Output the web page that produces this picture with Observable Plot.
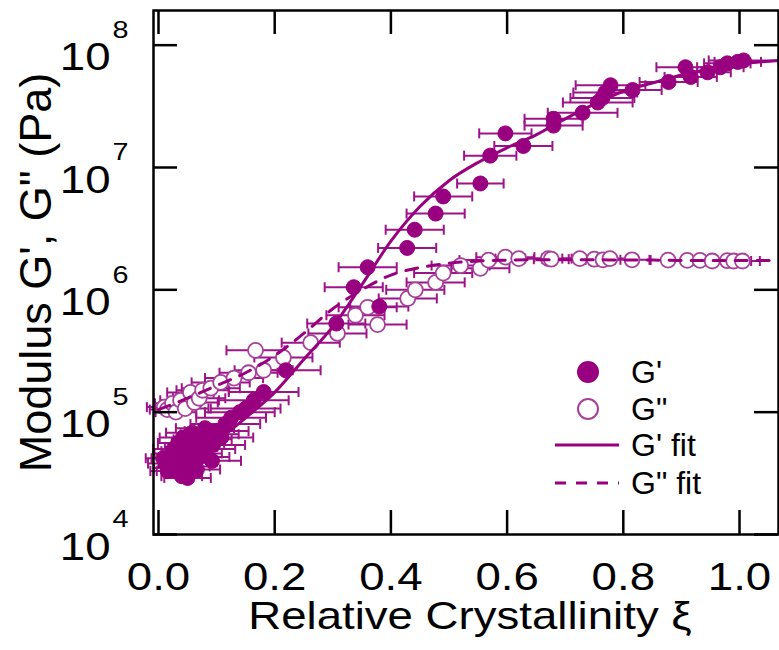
<!DOCTYPE html>
<html>
<head>
<meta charset="utf-8">
<script src="https://cdn.jsdelivr.net/npm/d3@7"></script>
<script src="https://cdn.jsdelivr.net/npm/@observablehq/plot@0.6"></script>
<style>
  html, body { margin: 0; padding: 0; background: #fff; }
  #wrap { position: relative; width: 779px; height: 650px; }
  #legend { position: absolute; left: 0; top: 0; pointer-events: none; }
</style>
</head>
<body>
<div id="wrap"></div>
<script>
// ---- data ----
// G' (storage modulus), filled circles: xi, value (Pa), horizontal error (xi)
const gpXi  = [0.008,0.012,0.016,0.018,0.022,0.026,0.028,0.032,0.034,0.036,0.040,0.042,0.045,0.048,0.050,0.052,0.056,0.058,0.060,0.064,0.066,0.068,0.072,0.076,0.080,0.082,0.088,0.092,0.094,0.100,0.108,0.115,0.125,0.140,0.150,0.164,0.181,0.219,0.306,0.336,0.360,0.380,0.428,0.441,0.477,0.490,0.554,0.571,0.597,0.628,0.680,0.680,0.730,0.756,0.764,0.769,0.778,0.816,0.878,0.907,0.916,0.945,0.967,0.979,0.997,1.007];
const gpVal = [4.2e4,3.8e4,3.3e4,4.2e4,3.5e4,5.0e4,4.6e4,3.3e4,5.6e4,4.0e4,3.0e4,6.2e4,4.8e4,3.6e4,2.9e4,4.2e4,5.2e4,6.8e4,3.9e4,4.6e4,3.4e4,5.6e4,4.3e4,6.0e4,7.4e4,5.0e4,6.6e4,4.0e4,5.4e4,7.0e4,6.2e4,8.0e4,9.0e4,1.0e5,1.07e5,1.25e5,1.46e5,2.2e5,5.3e5,1.05e6,1.53e6,7.3e5,2.2e6,3.1e6,4.2e6,5.8e6,7.4e6,1.25e7,1.9e7,1.5e7,2.5e7,2.2e7,2.8e7,3.4e7,3.7e7,4.1e7,4.7e7,4.3e7,5.0e7,6.6e7,5.5e7,6.0e7,6.6e7,7.1e7,7.3e7,7.5e7];
const gpErr = [0.03,0.03,0.03,0.03,0.03,0.035,0.035,0.035,0.035,0.03,0.035,0.04,0.04,0.04,0.04,0.04,0.045,0.045,0.04,0.045,0.04,0.045,0.05,0.05,0.05,0.05,0.05,0.05,0.055,0.055,0.055,0.06,0.06,0.06,0.06,0.06,0.06,0.06,0.05,0.05,0.05,0.05,0.05,0.05,0.05,0.05,0.04,0.045,0.045,0.05,0.05,0.05,0.06,0.06,0.055,0.055,0.06,0.05,0.05,0.05,0.045,0.04,0.04,0.04,0.04,0.06];

// G'' (loss modulus), open circles
const gppXi  = [0.010,0.015,0.024,0.030,0.038,0.046,0.055,0.062,0.070,0.076,0.090,0.107,0.130,0.155,0.167,0.181,0.215,0.262,0.308,0.339,0.360,0.377,0.429,0.442,0.477,0.490,0.520,0.554,0.568,0.597,0.620,0.671,0.676,0.725,0.750,0.765,0.777,0.815,0.877,0.910,0.932,0.953,0.979,0.990,1.005];
const gppVal = [1.1e5,1.05e5,1.18e5,1.0e5,1.25e5,1.07e5,1.45e5,1.2e5,1.3e5,1.51e5,1.57e5,1.75e5,1.9e5,2.1e5,3.2e5,2.2e5,2.8e5,3.7e5,4.4e5,6.2e5,7.2e5,5.2e5,8.5e5,1.0e6,1.15e6,1.37e6,1.58e6,1.5e6,1.75e6,1.85e6,1.8e6,1.8e6,1.78e6,1.8e6,1.78e6,1.76e6,1.8e6,1.76e6,1.75e6,1.74e6,1.74e6,1.72e6,1.73e6,1.72e6,1.72e6];
const gppErr = [0.03,0.03,0.03,0.035,0.035,0.04,0.04,0.04,0.045,0.045,0.05,0.05,0.05,0.05,0.05,0.05,0.05,0.05,0.05,0.05,0.05,0.05,0.05,0.05,0.05,0.05,0.05,0.05,0.05,0.05,0.04,0.04,0.03,0.03,0.03,0.03,0.03,0.03,0.03,0.03,0.03,0.03,0.03,0.03,0.03];

// fit curves
const fitXi    = [0.0,0.05,0.10,0.15,0.20,0.25,0.30,0.35,0.40,0.45,0.50,0.55,0.60,0.65,0.70,0.75,0.80,0.85,0.90,0.95,1.00,1.067];
const gpFit    = [3.6e4,4.3e4,5.8e4,9.0e4,1.45e5,2.7e5,5.0e5,1.1e6,2.5e6,4.8e6,7.8e6,1.1e7,1.45e7,1.85e7,2.5e7,3.3e7,4.2e7,4.9e7,5.7e7,6.4e7,7.0e7,7.5e7];
const gppFit   = [1.05e5,1.3e5,1.65e5,2.1e5,2.9e5,4.4e5,7.0e5,1.0e6,1.32e6,1.52e6,1.65e6,1.72e6,1.75e6,1.76e6,1.76e6,1.76e6,1.75e6,1.75e6,1.74e6,1.74e6,1.74e6,1.73e6];

// axes
const xTicks = [0.0,0.2,0.4,0.6,0.8,1.0];
const yTicks = [1e4,1e5,1e6,1e7,1e8];
const xLabel = "Relative Crystallinity \u03BE";
const yLabel = "Modulus G', G\" (Pa)";
const legendLabels = ["G'", "G\"", "G' fit", "G\" fit"];

// ---- build ----
const purple = "#990080";
const barColor = "#9c1489";
const openStroke = "#a6409a";
const gp = gpXi.map((x, i) => ({x, y: gpVal[i], e: gpErr[i]}));
const gpp = gppXi.map((x, i) => ({x, y: gppVal[i], e: gppErr[i]}));
const fitG1 = fitXi.map((x, i) => ({x, y: gpFit[i]}));
const fitG2 = fitXi.map((x, i) => ({x, y: gppFit[i]}));
const caps = (arr) => arr.flatMap(d => [{x: d.x - d.e, y: d.y}, {x: d.x + d.e, y: d.y}]);
const capSymbol = {draw(ctx, size) { const h = Math.sqrt(size / Math.PI); ctx.moveTo(0, -h); ctx.lineTo(0, h); }};

const W = 779, H = 650, mL = 153, mR = 1, mT = 10, mB = 116;
const pw = W - mL - mR, ph = H - mT - mB, tl = 24;
const font = "'Liberation Sans', Arial, Helvetica, sans-serif";

const chart = Plot.plot({
  width: W, height: H,
  marginLeft: mL, marginRight: mR, marginTop: mT, marginBottom: mB,
  style: {fontFamily: font, background: "white", color: "black"},
  x: {domain: [-0.0086, 1.0671], axis: null},
  y: {type: "log", domain: [1e4, 1.92e8], axis: null},
  marks: [
    // error bars
    Plot.ruleY(gpp, {y: "y", x1: d => d.x - d.e, x2: d => d.x + d.e, stroke: barColor, strokeWidth: 2}),
    Plot.dot(caps(gpp), {x: "x", y: "y", symbol: capSymbol, r: 5, stroke: barColor, strokeWidth: 2, fill: "none"}),
    Plot.ruleY(gp, {y: "y", x1: d => d.x - d.e, x2: d => d.x + d.e, stroke: barColor, strokeWidth: 2}),
    Plot.dot(caps(gp), {x: "x", y: "y", symbol: capSymbol, r: 5, stroke: barColor, strokeWidth: 2, fill: "none"}),
    // markers
    Plot.dot(gpp, {x: "x", y: "y", r: 7.5, fill: "white", stroke: openStroke, strokeWidth: 1.8}),
    Plot.dot(gp, {x: "x", y: "y", r: 7.5, fill: purple, stroke: purple, strokeWidth: 1}),
    // fits
    Plot.line(fitG2, {x: "x", y: "y", stroke: purple, strokeWidth: 3, strokeDasharray: "12,10", curve: "monotone-x"}),
    Plot.line(fitG1, {x: "x", y: "y", stroke: purple, strokeWidth: 3, curve: "monotone-x"}),
    // frame and inward ticks
    Plot.frame({stroke: "black", strokeWidth: 2.5}),
    Plot.tickX(xTicks, {x: d => d, insetTop: ph - tl, stroke: "black", strokeWidth: 2.5}),
    Plot.tickX(xTicks, {x: d => d, insetBottom: ph - tl, stroke: "black", strokeWidth: 2.5}),
    Plot.tickY(yTicks, {y: d => d, insetRight: pw - tl, stroke: "black", strokeWidth: 2.5}),
    Plot.tickY(yTicks, {y: d => d, insetLeft: pw - tl, stroke: "black", strokeWidth: 2.5}),
    // tick labels
    Plot.text(xTicks, {x: d => d, text: d => d.toFixed(1), frameAnchor: "bottom", textAnchor: "middle", dy: 43, lineAnchor: "middle", fontSize: 38, fill: "black"}),
    Plot.text(yTicks, {y: d => d, text: () => "10", frameAnchor: "left", textAnchor: "end", dx: -43, dy: 13, lineAnchor: "middle", fontSize: 38, fill: "black"}),
    Plot.text(yTicks, {y: d => d, text: d => String(Math.round(Math.log10(d))), frameAnchor: "left", textAnchor: "start", dx: -41, dy: -15, lineAnchor: "middle", fontSize: 24, fill: "black"}),
    // axis labels
    Plot.text([xLabel], {text: d => d, frameAnchor: "bottom", textAnchor: "middle", dx: 4, dy: 82, lineAnchor: "middle", fontSize: 38, fill: "black"}),
    Plot.text([yLabel], {text: d => d, frameAnchor: "left", textAnchor: "middle", rotate: -90, dx: -117, lineAnchor: "middle", fontSize: 45, fill: "black"})
  ]
});
// the reference's horizontal texts are drawn slightly wide: stretch them about their anchor
const stretch = 1.2;
chart.querySelectorAll("text").forEach(t => {
  const tr = t.getAttribute("transform") || "";
  if (tr.includes("rotate")) return;
  const x = parseFloat(t.getAttribute("x") || 0) || 0, y = parseFloat(t.getAttribute("y") || 0) || 0;
  t.setAttribute("transform", `${tr} translate(${x},${y}) scale(${stretch},1) translate(${-x},${-y})`);
});
document.getElementById("wrap").appendChild(chart);

// legend (drawn inside the plot area, as in the reference)
const ns = "http://www.w3.org/2000/svg";
const leg = document.createElementNS(ns, "svg");
leg.setAttribute("id", "legend");
leg.setAttribute("width", W); leg.setAttribute("height", H);
const rows = [372, 409, 445, 483];
function el(tag, attrs) { const e = document.createElementNS(ns, tag); for (const k in attrs) e.setAttribute(k, attrs[k]); leg.appendChild(e); return e; }
el("circle", {cx: 588, cy: rows[0], r: 11, fill: purple});
el("circle", {cx: 588, cy: rows[1], r: 10, fill: "white", stroke: openStroke, "stroke-width": 2});
el("line", {x1: 555, x2: 619, y1: rows[2], y2: rows[2], stroke: purple, "stroke-width": 3});
el("line", {x1: 555, x2: 619, y1: rows[3], y2: rows[3], stroke: purple, "stroke-width": 3, "stroke-dasharray": "11,10"});
legendLabels.forEach((t, i) => {
  const tx = el("text", {x: 631, y: rows[i], "dominant-baseline": "central", "font-size": 32, "font-family": font, fill: "black"});
  tx.textContent = t;
});
document.getElementById("wrap").appendChild(leg);
</script>
</body>
</html>
